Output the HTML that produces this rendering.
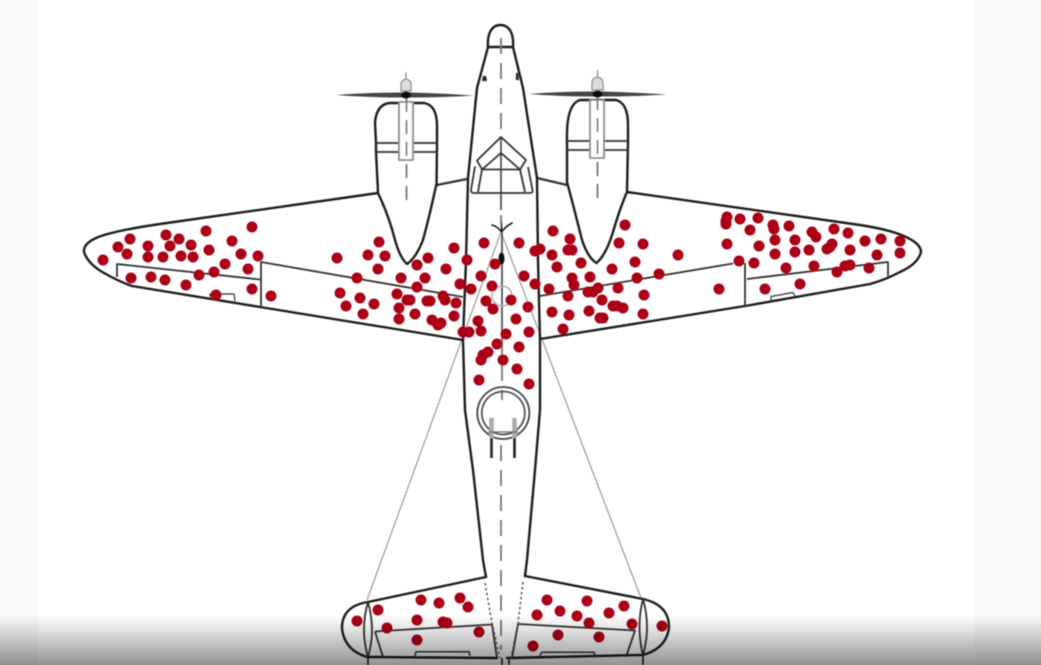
<!DOCTYPE html>
<html lang="en">
<head>
<meta charset="utf-8">
<title>Aircraft damage map</title>
<style>
html,body{margin:0;padding:0;width:1041px;height:665px;overflow:hidden;background:#fff}
svg{display:block}
.o{fill:none;stroke:#1c1c1c;stroke-width:2.4;stroke-linejoin:round;stroke-linecap:round}
.t{fill:none;stroke:#333;stroke-width:1.8;stroke-linejoin:round}
.g{fill:none;stroke:#999;stroke-width:1.2}
.d{fill:none;stroke:#777;stroke-width:1.8;stroke-dasharray:16 9}
</style>
</head>
<body>
<svg id="chart" width="1041" height="665" viewBox="0 0 1041 665" xmlns="http://www.w3.org/2000/svg">
<defs>
<linearGradient id="fade" x1="0" y1="0" x2="0" y2="1">
<stop offset="0" stop-color="#000" stop-opacity="0"/>
<stop offset="0.35" stop-color="#000" stop-opacity="0.14"/>
<stop offset="1" stop-color="#000" stop-opacity="0.43"/>
</linearGradient>
<filter id="soft" x="-2%" y="-2%" width="104%" height="104%"><feGaussianBlur stdDeviation="0.6"/></filter>
</defs>
<rect x="0" y="0" width="38" height="665" fill="#f9f9f9"/>
<rect x="975" y="0" width="66" height="665" fill="#f9f9f9"/>
<g id="plane" filter="url(#soft)">
  <g>
    <path class="g" d="M501 232L367 600M501 232L641 598"/>
    <path class="o" style="stroke-width:1.6" d="M492 225Q497 226 501.500 232Q506 226 512 223M501.500 222V232"/>
  </g>
  <g>
    <path class="o" d="M378 193L160 224Q112 231 96 238Q83 244 84 252Q88 264 104 273Q120 282 132 286L260 307L463 340"/>
    <path class="t" d="M117 277V264L260 279.500M261 307V262L463 297"/>
    <path class="t" style="stroke-width:1.2" d="M210 297V294H234L235 301"/>
  </g>
  <g>
    <path class="o" d="M627 192L860 225Q892 230 906 237Q921 244 921 252Q918 264 900 272Q885 280 870 284L745 306L540 339"/>
    <path class="t" d="M888 276V262L747 279M745 306V263M733 263.500L540 296"/>
    <path class="t" style="stroke-width:1.2" d="M771 300V296.500L793 292.500L795 296"/>
  </g>
  <g>
    <path class="t" style="stroke-width:2.2" d="M437 185L467 179M537 178L567 185"/>
  </g>
  <g>
    <path class="o" d="M378 192L376 152V143L375 122Q377 104 390 103H424Q437 105 437 126V143L436.500 186M378 193Q389 216 395 240Q400 258 407 264Q416 258 423 240Q430 214 436 186"/>
    <path class="t" d="M376 143H437M376 152H437"/>
    <path class="t" style="stroke:#888;fill:#fff" d="M399 102H413V160H399Z"/>
    <path class="d" style="stroke-dasharray:14 8" d="M406.500 98V205"/>
  </g>
  <g>
    <path class="o" d="M567 182V150V141Q566 104 580 100H616Q628 103 628 125V141L627 192M567 182Q574 208 582 240Q588 258 596.500 263Q606 255 613 232Q620 208 627 192"/>
    <path class="t" d="M567 141H628M567 150H628"/>
    <path class="t" style="stroke:#888;fill:#fff" d="M590 100H604V158H590Z"/>
    <path class="d" style="stroke-dasharray:14 8" d="M597.500 96V205"/>
  </g>
  <g>
    <path fill="#444" d="M336 95Q370 92.500 400 92.500L412 92.500Q445 93.500 474 95.500Q445 97.500 412 97.500L400 97.500Q370 97.500 336 95Z"/>
    <path fill="#ddd" stroke="#888" stroke-width="1.2" d="M406 72V79Q401 80 401 85V91H411V85Q411 80 406 79Z"/>
    <ellipse cx="406" cy="95" rx="5" ry="3.500" fill="#111"/>
  </g>
  <g>
    <path fill="#444" d="M529 94Q560 91.500 591 91.500L604 91.500Q635 92.500 667 94.500Q635 96.500 604 96.500L591 96.500Q560 96.500 529 94Z"/>
    <path fill="#ddd" stroke="#888" stroke-width="1.2" d="M597.500 70V77Q592 78 592 83V90H603V83Q603 78 597.500 77Z"/>
    <ellipse cx="597.500" cy="94" rx="5" ry="3.500" fill="#111"/>
  </g>
  <g>
    <path class="o" d="M488 47C487 33 492 25 500.500 25C509 25 514 33 513 47H488ZM488 47L477 88L468 178L466 260L463 340L465 410L473 470L483 560L486 577"/>
    <path class="o" d="M513 47L523 88L537 178L538 260L540 340L540 410L535 470L527 560L525 576"/>
    <path fill="#222" d="M483 76L486 76L487 81L482 81ZM516 73L518 73L519 80L516 80Z"/>
    <path class="d" d="M501 38V135M501 215V225M502 340V400M501 445V650"/>
    <path class="t" style="stroke:#555" d="M501 138V210M502 232V340"/>
  </g>
  <g>
    <path class="t" d="M501 137L477 160.500L482 169.500H520L526 160L501 137ZM482 169.500L501 153L520 169.500M475 166.500L471 190Q471 193 474 193H530Q533 193 532.500 190L528 167M482 169.500L478 192M520 169.500L525 192"/>
  </g>
  <g>
    <ellipse cx="501.500" cy="258.500" rx="3" ry="6" fill="#111"/>
    <circle cx="502" cy="296" r="10" fill="none" stroke="#aaa" stroke-width="1.4"/>
  </g>
  <g>
    <circle class="t" cx="503.300" cy="413" r="26" style="stroke:#444"/>
    <circle class="t" cx="503.300" cy="413" r="21.500" style="stroke:#555"/>
    <path d="M491.500 418V438M514.500 418V438" stroke="#aaa" stroke-width="4.500" fill="none"/>
    <path d="M491.500 438V458M514.500 438V458" stroke="#222" stroke-width="2.600" fill="none"/>
    <path class="t" style="stroke-width:1.2;stroke:#666" d="M488 432H518"/>
  </g>
  <g>
    <path class="o" d="M486 577L368 602Q342 606 342 628Q344 650 367 657L497 658M525 576L643 599Q669 605 669 627Q667 648 643 655L507 658"/>
    <path class="t" d="M375 631.500L492 624.500L497 658M375 631.500L383 657M518 624L635 630.500L626 657M518 624L512 658"/>
    <path class="t" d="M368 602Q360 630 368 657M368 602Q376 630 368 657M643 599Q636 627 643 655M643 599Q651 627 643 655"/>
    <path class="t" style="stroke-width:1.5" d="M415 656L416 651.700H469L470 656M540 656L541.700 652.300H594L595 656"/>
    <path style="fill:none;stroke:#555;stroke-width:1.5;stroke-dasharray:2.500 2.500" d="M485 583L492 623L500 658M523 582L518 623L511 658"/>
    <path class="t" d="M368 658V665M643 656V665M502 658V665M509 658V665"/>
  </g>
  <g id="hits"></g>
</g>
<rect x="0" y="615" width="1041" height="50" fill="url(#fade)"/>
</svg>
<script>
// Hit positions, in airframe units:
// across = units from the centreline (negative = left), along = units back from the nose.
const leftWingAcross = [-39.9,-38.4,-37.2,-37.5,-35.4,-35.4,-33.6,-32.3,-33.2,-31.1,-33.9,-32.1,-30.9,-29.6,-29.3,-27.0,-25.0,-26.1,-24.4,-27.7,-25.4,-28.8,-30.3,-37.1,-35.1,-33.7,-31.6,-28.6,-25.0,-23.1,-16.5,-13.4,-11.7,-12.3,-12.4,-14.5,-16.2,-14.2,-15.6,-12.8,-13.9,-10.1,-8.5,-7.4,-7.7,-8.5,-10.5,-9.5,-9.2,-10.3,-10.3,-8.7,-7.5,-7.2,-7.0,-6.4,-6.1,-4.8,-3.5,-5.6,-4.2,-3.1,-5.9,-5.7,-4.6,-4.8,-3.9,-3.3];
const leftWingAlong = [23.4,22.1,21.3,22.8,22.0,23.1,20.9,21.3,22.0,21.9,23.1,23.0,23.1,20.5,22.4,21.5,20.1,22.8,23.0,23.8,24.3,24.6,24.9,25.2,25.1,25.4,25.9,26.9,26.3,27.0,23.2,22.9,23.0,21.6,24.3,25.2,26.7,27.2,28.0,27.8,28.8,25.2,23.9,23.2,25.2,26.1,26.8,27.4,27.4,28.2,29.3,28.8,27.5,27.5,29.4,29.9,29.7,22.2,23.4,24.3,25.8,26.3,27.0,27.4,27.7,29.0,30.6,30.6];
const fuselageAcross = [-1.8,-0.7,-2.1,-1.0,-1.6,-0.9,-2.4,-2.1,0.9,1.7,2.2,3.3,2.6,1.4,0.4,2.7,-0.5,1.7,-1.4,-1.9,-2.1,0.1,1.5,-2.3,2.7];
const fuselageAlong = [21.7,23.8,25.0,26.0,27.5,28.3,29.5,30.5,27.4,21.7,25.0,25.8,28.1,29.3,30.8,30.6,31.8,32.1,32.6,32.9,33.4,33.4,34.3,35.4,35.8];
const rightWingAcross = [3.3,3.8,5.1,6.8,6.6,7.0,5.0,5.5,7.9,4.7,7.0,7.2,8.8,6.6,8.6,9.1,9.6,11.6,11.0,10.0,12.3,11.7,14.1,13.3,13.5,15.7,14.2,11.1,11.5,12.1,14.1,8.7,9.8,10.1,6.7,5.0,6.1,17.6,21.7,22.5,22.5,22.4,22.4,23.8,25.6,24.8,27.1,27.2,28.7,27.3,25.7,29.3,27.3,29.3,30.7,31.0,31.4,33.2,34.6,33.0,32.8,32.5,34.8,36.3,37.9,39.8,39.8,37.5,23.7,25.2,28.4,31.2,33.5,34.3,34.8,36.7,26.3,29.8];
const rightWingAlong = [22.5,22.3,20.5,21.3,22.4,22.4,22.9,24.1,23.7,26.3,25.2,25.9,25.1,27.0,26.6,26.6,26.2,26.2,24.3,27.4,19.9,21.7,21.8,23.6,25.2,24.8,26.9,28.0,28.0,28.2,28.8,28.5,29.2,29.2,28.9,28.6,30.3,22.9,26.3,21.8,19.1,19.5,19.8,19.3,19.2,20.4,19.9,20.3,20.0,21.4,22.0,21.4,22.8,22.6,22.4,20.6,21.1,20.3,20.7,21.8,22.1,22.3,22.4,21.5,21.3,21.5,22.7,22.9,23.5,23.7,24.2,24.0,24.6,24.0,23.9,24.2,26.3,25.8];
const tailAcross = [-14.5,-12.4,-11.5,-8.1,-6.3,-4.2,-3.4,-8.5,-5.9,-5.5,-8.5,-2.3,4.5,8.5,12.2,5.8,3.5,7.5,10.7,8.7,13.0,16.0,5.6,9.7,3.1];
const tailAlong = [59.5,58.4,60.2,57.4,57.7,57.2,58.1,59.4,59.6,59.7,61.4,60.6,57.4,57.5,58.0,58.5,58.9,59.0,58.7,59.7,59.8,60.0,60.9,61.1,62.0];

function xAxis(u){ return 502 + u * 10; }
function yAxis(v){ return 26 + v * 10; }

const hitsGroup = document.getElementById('hits');
function drawHits(across, along){
  across.forEach(function(u, i){
    const c = document.createElementNS('http://www.w3.org/2000/svg', 'circle');
    
    
    c.setAttribute('cx', xAxis(u));
    c.setAttribute('cy', yAxis(along[i]));
    c.setAttribute('r', 5.5);
    c.setAttribute('fill', '#ab0019');
    hitsGroup.appendChild(c);
  });
}
drawHits(leftWingAcross, leftWingAlong);
drawHits(fuselageAcross, fuselageAlong);
drawHits(rightWingAcross, rightWingAlong);
drawHits(tailAcross, tailAlong);
</script>
</body>
</html>
